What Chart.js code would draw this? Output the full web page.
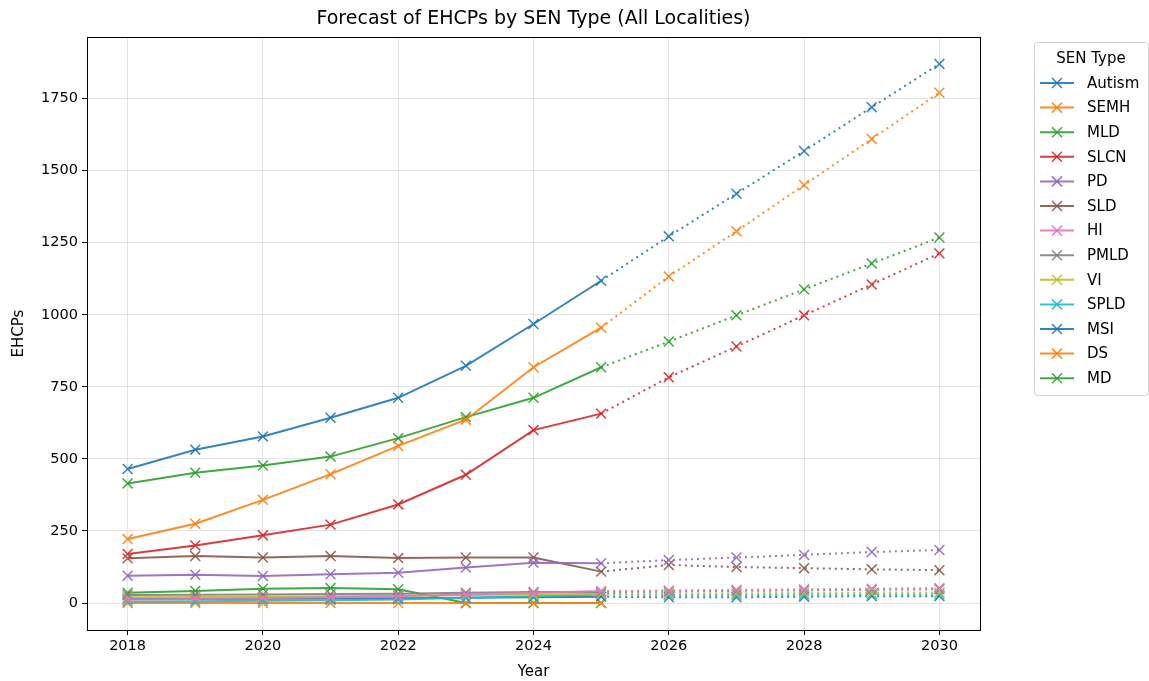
<!DOCTYPE html>
<html>
<head>
<meta charset="utf-8">
<script src="https://cdn.jsdelivr.net/npm/chart.js@4.4.1/dist/chart.umd.min.js"></script>
<style>
  html, body { margin: 0; padding: 0; background: #fff; }
  #wrap { width: 1149px; height: 681px; }
</style>
</head>
<body>
<div id="wrap"><canvas id="grafico" width="1149" height="681"></canvas></div>
<script>
// Dados (2018-2025 reais, 2026-2030 previsão)
const anos = [2018, 2019, 2020, 2021, 2022, 2023, 2024, 2025, 2026, 2027, 2028, 2029, 2030];
const tiposSEN = ['Autism', 'SEMH', 'MLD', 'SLCN', 'PD', 'SLD', 'HI', 'PMLD', 'VI', 'SPLD', 'MSI', 'DS', 'MD'];

const autism = [465, 532, 578, 643, 712, 823, 968, 1118, 1272, 1420, 1568, 1720, 1870];
const semh   = [222, 275, 358, 447, 545, 636, 818, 955, 1133, 1290, 1450, 1610, 1770];
const mld    = [415, 452, 477, 508, 572, 645, 712, 818, 907, 998, 1088, 1178, 1268];
const slcn   = [170, 200, 235, 272, 342, 445, 600, 657, 783, 890, 998, 1105, 1213];
const pd     = [95, 98, 94, 100, 105, 123, 140, 138, 149, 158, 167, 177, 184];
const sld    = [155, 163, 158, 163, 156, 158, 158, 109, 132, 125, 121, 117, 114];
const hi     = [12, 14, 17, 20, 24, 30, 36, 42, 44, 46, 48, 50, 52];
const pmld   = [28, 29, 30, 31, 32, 36, 38, 38, 40, 42, 44, 46, 48];
const vi     = [20, 21, 22, 24, 25, 28, 30, 32, 33, 34, 35, 36, 37];
const spld   = [5, 6, 8, 10, 12, 18, 24, 30, 28, 28, 29, 30, 31];
const msi    = [14, 14, 15, 16, 17, 18, 20, 22, 20, 20, 22, 24, 24];
const ds     = [0, 0, 0, 0, 0, 0, 0, 0, null, null, null, null, null];
const md     = [36, 42, 50, 52, 48, 0, 0, 0, null, null, null, null, null];

const series = [autism, semh, mld, slcn, pd, sld, hi, pmld, vi, spld, msi, ds, md];
const cores = ['rgba(31,119,180,0.9)', 'rgba(255,127,14,0.9)', 'rgba(44,160,44,0.9)',
  'rgba(214,39,40,0.9)', 'rgba(148,103,189,0.9)', 'rgba(140,86,75,0.9)',
  'rgba(227,119,194,0.9)', 'rgba(127,127,127,0.9)', 'rgba(188,189,34,0.9)',
  'rgba(23,190,207,0.9)', 'rgba(31,119,180,0.9)', 'rgba(255,127,14,0.9)', 'rgba(44,160,44,0.9)'];

const ticksY = [0, 250, 500, 750, 1000, 1250, 1500, 1750];
const ticksX = [2018, 2020, 2022, 2024, 2026, 2028, 2030];
const anoPrevisao = 2025;

const fonte = '"DejaVu Sans", sans-serif';

const datasets = tiposSEN.map((nome, i) => ({
  label: nome,
  data: anos.map((a, j) => ({ x: a, y: series[i][j] })),
  borderColor: cores[i],
  backgroundColor: cores[i],
  borderWidth: 2,
  pointStyle: 'crossRot',
  pointRadius: 7,
  pointBorderWidth: 1.5,
  pointBorderColor: cores[i],
  spanGaps: false,
  segment: {
    borderDash: ctx => ctx.p0.parsed.x >= anoPrevisao ? [2, 4] : undefined
  }
}));

// moldura do gráfico + título + legenda desenhados à mão
const extras = {
  id: 'extras',
  afterDraw(chart) {
    const c = chart.ctx;
    const a = chart.chartArea;
    c.save();
    c.strokeStyle = '#000';
    c.lineWidth = 1;
    c.strokeRect(Math.round(a.left) + 0.5, Math.round(a.top) + 0.5,
      Math.round(a.right - a.left), Math.round(a.bottom - a.top));

    c.fillStyle = '#000';
    c.font = '19px ' + fonte;
    c.textAlign = 'center';
    c.textBaseline = 'middle';
    c.fillText('Forecast of EHCPs by SEN Type (All Localities)', (a.left + a.right) / 2, 19);

    // legenda
    const lx = 1034, ly = 42, lw = 114, lh = 353;
    c.fillStyle = '#fff';
    c.strokeStyle = '#d0d0d0';
    c.beginPath();
    c.roundRect(lx + 0.5, ly + 0.5, lw, lh, 3);
    c.fill();
    c.stroke();
    c.fillStyle = '#000';
    c.font = '15px ' + fonte;
    c.textAlign = 'center';
    c.fillText('SEN Type', lx + lw / 2, 59);
    c.textAlign = 'left';
    chart.data.datasets.forEach((ds, i) => {
      const y = 83 + i * 24.6;
      c.strokeStyle = ds.borderColor;
      c.lineWidth = 2;
      c.beginPath();
      c.moveTo(1040, y);
      c.lineTo(1074, y);
      c.stroke();
      c.lineWidth = 1.5;
      c.beginPath();
      c.moveTo(1052, y - 5); c.lineTo(1062, y + 5);
      c.moveTo(1052, y + 5); c.lineTo(1062, y - 5);
      c.stroke();
      c.fillStyle = '#000';
      c.fillText(ds.label, 1087, y + 1);
    });
    c.restore();
  }
};

new Chart(document.getElementById('grafico'), {
  type: 'line',
  data: { datasets: datasets },
  options: {
    responsive: false,
    animation: false,
    layout: { padding: { left: 0, top: 37, right: 169, bottom: 0 } },
    plugins: {
      legend: { display: false },
      title: { display: false },
      tooltip: { enabled: false }
    },
    scales: {
      x: {
        type: 'linear',
        min: 2017.4,
        max: 2030.6,
        afterBuildTicks: s => { s.ticks = ticksX.map(v => ({ value: v })); },
        afterFit: s => { s.height = 51; },
        grid: { color: 'rgba(0,0,0,0.1)', tickColor: '#000', tickLength: 5 },
        border: { display: true, color: '#000' },
        ticks: { color: '#000', font: { family: fonte, size: 14.5 }, padding: 3, callback: v => String(v) },
        title: { display: true, text: 'Year', color: '#000', font: { family: fonte, size: 15 }, padding: { top: 4, bottom: 0 } }
      },
      y: {
        type: 'linear',
        min: -93.5,
        max: 1963.5,
        afterBuildTicks: s => { s.ticks = ticksY.map(v => ({ value: v })); },
        afterFit: s => { s.width = 87; },
        grid: { color: 'rgba(0,0,0,0.1)', tickColor: '#000', tickLength: 5 },
        border: { display: true, color: '#000' },
        ticks: { color: '#000', font: { family: fonte, size: 14.5 }, padding: 4, callback: v => String(v) },
        title: { display: true, text: 'EHCPs', color: '#000', font: { family: fonte, size: 15 }, padding: { top: 10, bottom: 0 } }
      }
    }
  },
  plugins: [extras]
});
</script>
</body>
</html>
